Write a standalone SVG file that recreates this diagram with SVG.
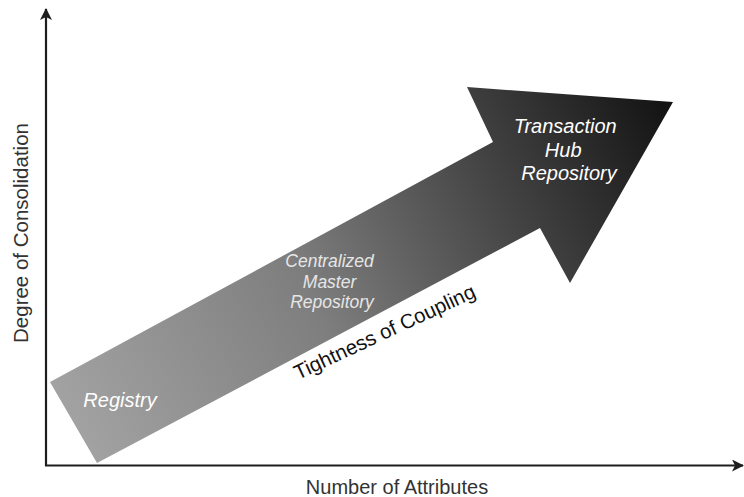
<svg xmlns="http://www.w3.org/2000/svg" width="744" height="497" viewBox="0 0 744 497">
  <style>
    .lbl { font-family: "Liberation Sans", Arial, sans-serif; }
    .inner { font-family: "Liberation Sans", Arial, sans-serif; font-style: italic; text-anchor: middle; }
    .axis { stroke: #1e1e1e; stroke-width: 2.2; fill: none; }
  </style>
  <defs>
    <linearGradient id="arrowGrad" gradientUnits="userSpaceOnUse" x1="70" y1="420" x2="665" y2="105">
      <stop offset="0" stop-color="#a2a2a2"/>
      <stop offset="0.4" stop-color="#7e7e7e"/>
      <stop offset="0.72" stop-color="#444444"/>
      <stop offset="1" stop-color="#141414"/>
    </linearGradient>
    <marker id="ah" viewBox="0 0 12 12" refX="11" refY="6" markerWidth="12" markerHeight="12" markerUnits="userSpaceOnUse" orient="auto">
      <path d="M0,0 L12,6 L0,12 L3,6 Z" fill="#1e1e1e"/>
    </marker>
  </defs>

  <g id="connectors">
    <line class="axis" x1="46" y1="466" x2="46" y2="9" marker-end="url(#ah)"/>
    <line class="axis" x1="45" y1="465.5" x2="743" y2="465.5" marker-end="url(#ah)"/>
  </g>

  <g id="big-arrow">
    <polygon points="50,382 493,142 467,87 673,102 570,283 540,228 97,463" fill="url(#arrowGrad)"/>
  </g>

  <g id="registry">
    <text class="inner" x="120" y="407" font-size="20" fill="#ffffff">Registry</text>
  </g>

  <g id="centralized">
    <text class="inner" font-size="17.5" fill="#e6e6e6">
      <tspan x="332" y="267">Centralized</tspan>
      <tspan x="332" y="288">Master</tspan>
      <tspan x="332" y="308">Repository</tspan>
    </text>
  </g>

  <g id="transaction-hub">
    <text class="inner" font-size="20" fill="#ffffff">
      <tspan x="568" y="133">Transaction</tspan>
      <tspan x="566" y="157">Hub</tspan>
      <tspan x="569" y="180">Repository</tspan>
    </text>
  </g>

  <g id="tightness">
    <text class="lbl" x="298" y="380" font-size="20.5" fill="#111111" transform="rotate(-25 298 380)">Tightness of Coupling</text>
  </g>

  <g id="y-label">
    <text class="lbl" x="0" y="0" font-size="20.5" fill="#333333" text-anchor="middle" transform="translate(28 233) rotate(-90)">Degree of Consolidation</text>
  </g>

  <g id="x-label">
    <text class="lbl" x="397" y="494" font-size="20" fill="#333333" text-anchor="middle">Number of Attributes</text>
  </g>
</svg>
